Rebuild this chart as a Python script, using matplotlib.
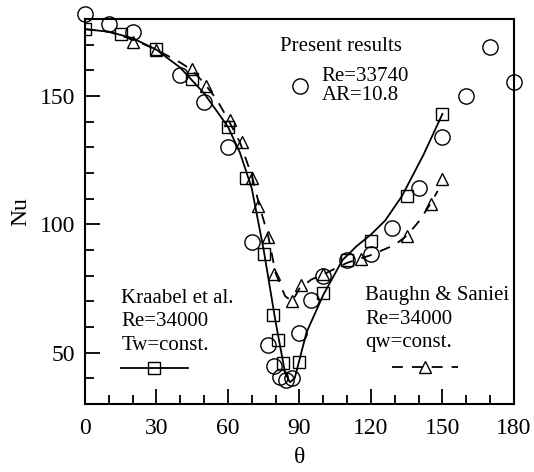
import matplotlib
matplotlib.use("Agg")
import matplotlib.pyplot as plt
from matplotlib.lines import Line2D
from matplotlib.ticker import MultipleLocator

plt.rcParams['font.family'] = ['Liberation Serif', 'DejaVu Serif']

# present results (open circles)
theta_p = [0, 10, 20, 40, 50, 60, 70, 77, 79.5, 82, 84.5, 87, 90, 95, 100,
           110, 120, 129, 140, 150, 160, 170, 180]
nu_p = [182, 178, 175, 158, 147.6, 130, 93, 53, 45, 40.5, 39.5, 40, 57.5,
        70.7, 80, 86, 88.3, 98.7, 114, 134, 150, 169, 155.5]

# Kraabel et al. (squares) and their curve
theta_k = [0, 15, 30, 45, 60, 67.5, 75, 78.75, 80.8, 83, 90, 100, 110, 120, 135, 150]
nu_k = [176, 174, 168.4, 156.6, 138, 118, 88.3, 64.5, 55, 46, 46.5, 73.3, 86,
        93.5, 111, 143]
curve_k_x = [0, 10, 20, 30, 40, 50, 60, 65, 70, 75, 80, 84, 86, 88, 93, 100,
             108, 114, 120, 126, 133, 142, 150]
curve_k_y = [176, 175, 172.5, 168, 161, 151, 138, 128, 114, 90, 62, 42, 38.5,
             40, 58, 72.5, 86, 91.5, 96, 101.5, 111, 127, 143]

# Baughn & Saniei (triangles) and their curve
theta_b = [20, 30, 45, 51, 61, 66, 70, 72.5, 77, 79.5, 87, 90.5, 100, 116,
           135, 145, 150]
nu_b = [171, 168, 160.5, 154, 140.5, 132, 118, 107, 95, 80.5, 70, 76.5, 80.5,
        86.5, 95.5, 108, 117.5]
curve_b_x = [0, 10, 20, 30, 40, 45, 50, 55, 60, 65, 70, 73, 77, 80, 84, 87,
             90, 95, 100, 110, 120, 130, 135, 140, 145, 148]
curve_b_y = [176, 175, 172, 168, 163, 160, 155, 149, 141, 132, 119, 108, 95,
             81, 72, 70, 75, 78.5, 80.5, 85, 88, 92, 95.5, 101, 108, 113]

fig = plt.figure(figsize=(5.34, 4.72), dpi=100)
ax = fig.add_axes([0.159, 0.144, 0.8035, 0.816])

ax.plot(curve_k_x, curve_k_y, color='k', lw=1.3)
ax.plot(curve_b_x, curve_b_y, color='k', lw=1.3, dashes=(6, 5))
ax.plot(theta_k, nu_k, ls='none', marker='s', ms=9, mfc='none', mec='k', mew=1)
ax.plot(theta_b, nu_b, ls='none', marker='^', ms=9, mfc='none', mec='k', mew=1)
ax.plot(theta_p, nu_p, ls='none', marker='o', ms=11, mfc='none', mec='k', mew=1,
        clip_on=False)

ax.set_xlim(0, 180)
ax.set_ylim(30, 180)
ax.xaxis.set_major_locator(MultipleLocator(30))
ax.xaxis.set_minor_locator(MultipleLocator(10))
ax.yaxis.set_major_locator(MultipleLocator(50))
ax.yaxis.set_minor_locator(MultipleLocator(10))
ax.tick_params(which='both', direction='in', width=1.3, labelsize=17)
ax.tick_params(which='major', length=11)
ax.tick_params(axis='x', which='major', pad=10)
ax.tick_params(axis='y', which='major', pad=7)
ax.tick_params(which='minor', length=6.5)
for s in ax.spines.values():
    s.set_linewidth(1.5)

ax.set_xlabel('θ', fontsize=17, labelpad=6)
ax.set_ylabel('Nu', fontsize=17, labelpad=6)

h_p = Line2D([], [], ls='none', marker='o', ms=11, mfc='none', mec='k', mew=1)
h_k = Line2D([], [], color='k', lw=1.3, marker='s', ms=9, mfc='none', mec='k', mew=1)
h_b = Line2D([], [], color='k', lw=1.3, dashes=(6, 5), marker='^', ms=9,
             mfc='none', mec='k', mew=1)

leg_p = ax.legend([h_p], ['Re=33740\nAR=10.8'], title='Present results',
                  loc='upper left', bbox_to_anchor=(0.44, 0.968), frameon=False,
                  fontsize=15, title_fontsize=15, alignment='left',
                  handlelength=1.9, handletextpad=0.1, borderaxespad=0,
                  borderpad=0.3)
leg_p.get_texts()[0].set_linespacing(1.0)
ax.add_artist(leg_p)

leg_k = ax.legend([h_k], [''], title='Kraabel et al.\nRe=34000\nTw=const.',
                  loc='upper left', bbox_to_anchor=(0.065, 0.32), frameon=False,
                  fontsize=15, title_fontsize=15, alignment='left',
                  handlelength=3.2, handletextpad=0, borderaxespad=0,
                  labelspacing=0.3)
leg_k.get_title().set_linespacing(1.3)
ax.add_artist(leg_k)

leg_b = ax.legend([], [], title='Baughn & Saniei\nRe=34000\nqw=const.',
                  loc='upper left', bbox_to_anchor=(0.64, 0.32), frameon=False,
                  title_fontsize=15, alignment='left', borderaxespad=0)
leg_b.get_title().set_linespacing(1.3)
ax.add_artist(leg_b)

leg_b2 = ax.legend([h_b], [''], loc='upper left', bbox_to_anchor=(0.715, 0.115),
                   frameon=False, fontsize=15, handlelength=3.2,
                   handletextpad=0, borderaxespad=0, borderpad=0)

fig.savefig('out.png', dpi=100)
